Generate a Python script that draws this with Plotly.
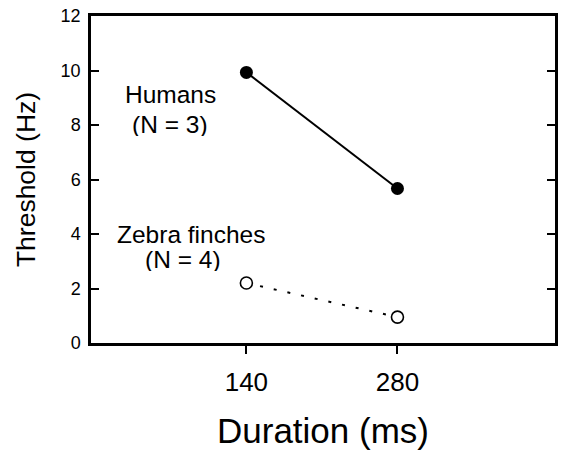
import plotly.graph_objects as go

durations = [140, 280]
humans = [9.93, 5.67]
finches = [2.2, 0.95]
y_ticks = [0, 2, 4, 6, 8, 10, 12]
x_ticks = [140, 280]

FONT = "Liberation Sans, Arial, Helvetica, sans-serif"

fig = go.Figure()
fig.add_trace(go.Scatter(
    x=durations, y=humans, mode="lines+markers",
    line=dict(color="black", width=2),
    marker=dict(symbol="circle", size=13, color="black"),
    showlegend=False))
fig.add_trace(go.Scatter(
    x=durations, y=finches, mode="lines+markers",
    line=dict(color="black", width=2, dash="3px,11px"),
    marker=dict(symbol="circle", size=12, color="white",
                line=dict(width=1.6, color="black")),
    showlegend=False))

fig.update_layout(
    width=561, height=452,
    margin=dict(l=91, r=3, t=16, b=109),
    plot_bgcolor="white", paper_bgcolor="white",
    font=dict(family=FONT, color="black"),
    xaxis=dict(
        range=[-4, 426], tickvals=x_ticks, ticktext=[str(v) for v in x_ticks],
        ticks="outside", ticklen=8, tickwidth=2, tickcolor="black",
        showline=True, linecolor="black", linewidth=2.5, mirror=True,
        showgrid=False, zeroline=False,
        ticklabelstandoff=6,
        tickfont=dict(size=26, family=FONT),
        title=dict(text="Duration (ms)", font=dict(size=35, family=FONT), standoff=23),
    ),
    yaxis=dict(
        range=[0, 12], tickvals=y_ticks,
        ticks="inside", ticklen=8, tickwidth=2, tickcolor="black",
        showline=True, linecolor="black", linewidth=2.5, mirror="ticks",
        showgrid=False, zeroline=False,
        ticklabelstandoff=4,
        tickfont=dict(size=18, family=FONT),
        title=dict(text="Threshold (Hz)", font=dict(size=26.5, family=FONT), standoff=18),
    ),
)

labels = [
    ("Humans", 70, 9.13),
    ("(N = 3)", 69, 8.03),
    ("Zebra finches", 89, 4.0),
    ("(N = 4)", 81, 3.1),
]
for text, xv, yv in labels:
    fig.add_annotation(x=xv, y=yv, xref="x", yref="y", text=text,
                       showarrow=False, font=dict(size=24.5, family=FONT),
                       height=24, valign="middle", borderpad=0,
                       xanchor="center", yanchor="middle")

fig.write_html("out.html")
